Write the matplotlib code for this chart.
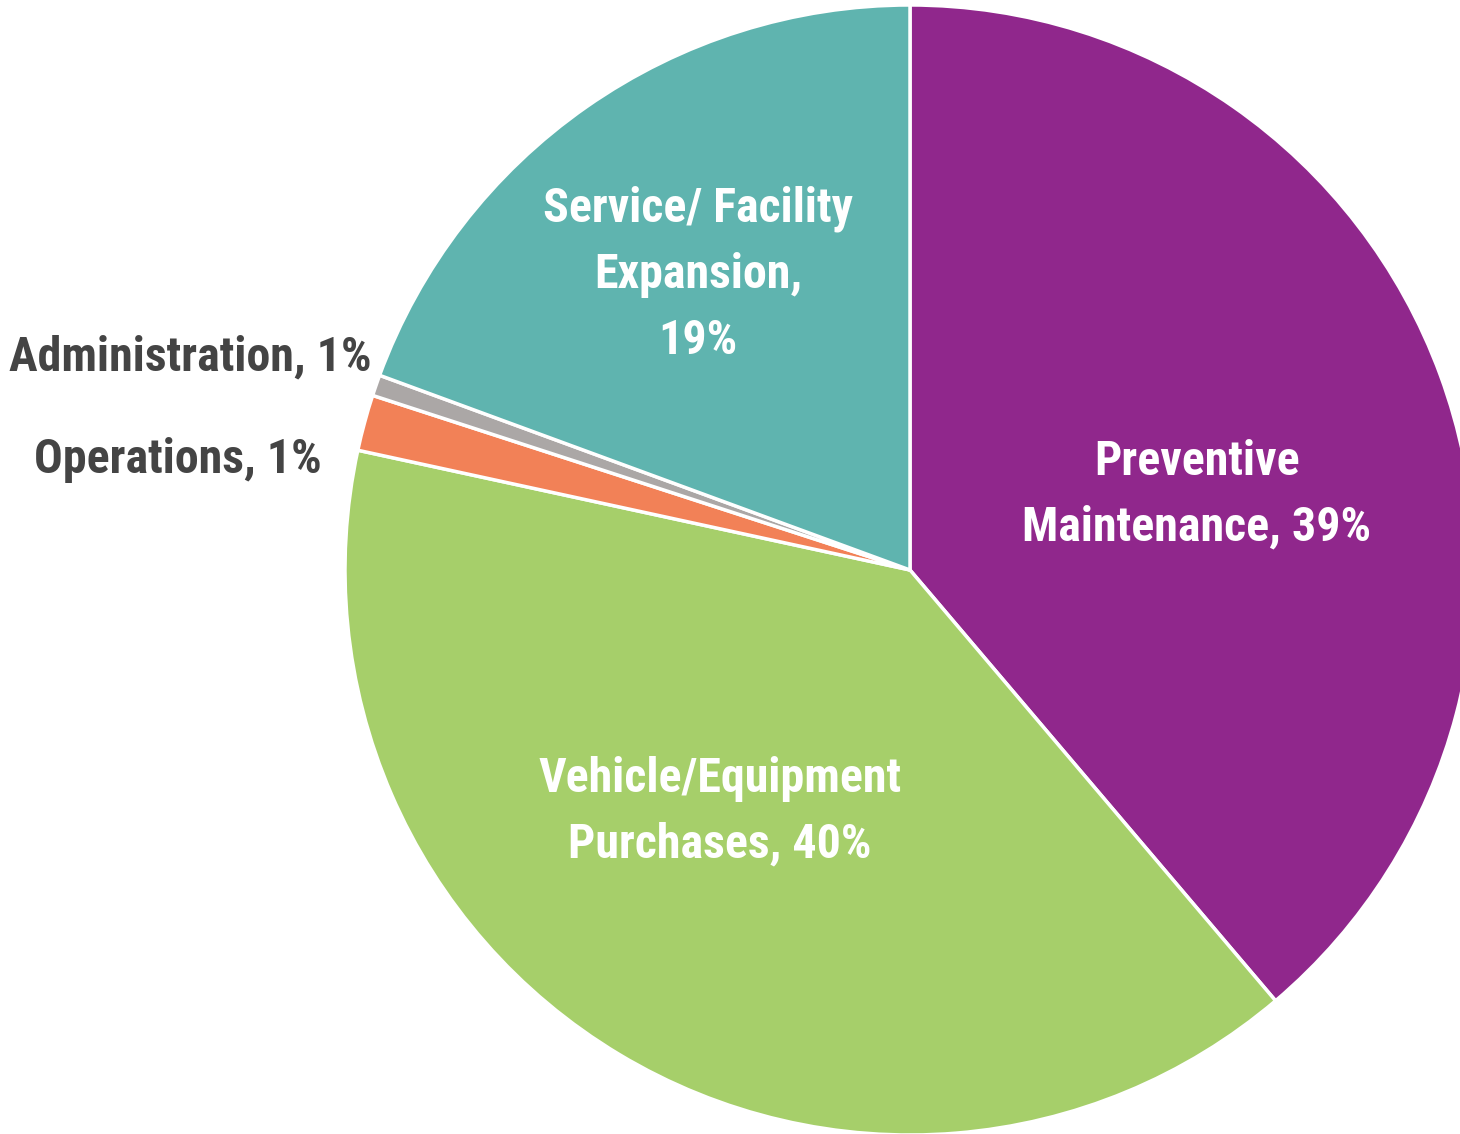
import matplotlib
matplotlib.use("Agg")
import matplotlib.pyplot as plt

# 数据
categories = ['Preventive Maintenance', 'Vehicle/Equipment Purchases', 'Operations',
              'Administration', 'Service/ Facility Expansion']
shares = [38.8, 39.6, 1.6, 0.6, 19.4]
colors = ['#90278C', '#A6CF6A', '#F28157', '#ABA7A6', '#5FB4AF']

plt.rcParams['font.family'] = ['Roboto Condensed', 'DejaVu Sans']

W, H = 1460, 1134
cx, cy, r = 910, 570, 565
fig = plt.figure(figsize=(W / 100, H / 100), dpi=100)
ax = fig.add_axes([(cx - r) / W, (H - cy - r) / H, 2 * r / W, 2 * r / H])

wedges, _ = ax.pie(shares, colors=colors, startangle=90, counterclock=False,
                   wedgeprops=dict(edgecolor='white', linewidth=2.5))
ax.set_xlim(-1, 1)
ax.set_ylim(-1, 1)
ax.set_aspect('equal')
ax.axis('off')

def px(x, y):
    # 像素位置 -> 数据坐标
    return (x - cx) / r, (cy - y) / r

inside = [
    ('Preventive\nMaintenance, 39%', 1197, 495),
    ('Vehicle/Equipment\nPurchases, 40%', 720, 812),
    ('Service/ Facility\nExpansion,\n19%', 698, 275),
]
for txt, x, y in inside:
    ax.text(*px(x, y), txt, ha='center', va='center', color='white',
            fontsize=34.5, fontweight='bold', linespacing=1.55, clip_on=False)

outside = [
    ('Administration, 1%', 372, 357),
    ('Operations, 1%', 322, 460),
]
for txt, x, y in outside:
    ax.text(*px(x, y), txt, ha='right', va='center', color='#444444',
            fontsize=34.5, fontweight='bold', clip_on=False)

fig.savefig('out.png', dpi=100)
